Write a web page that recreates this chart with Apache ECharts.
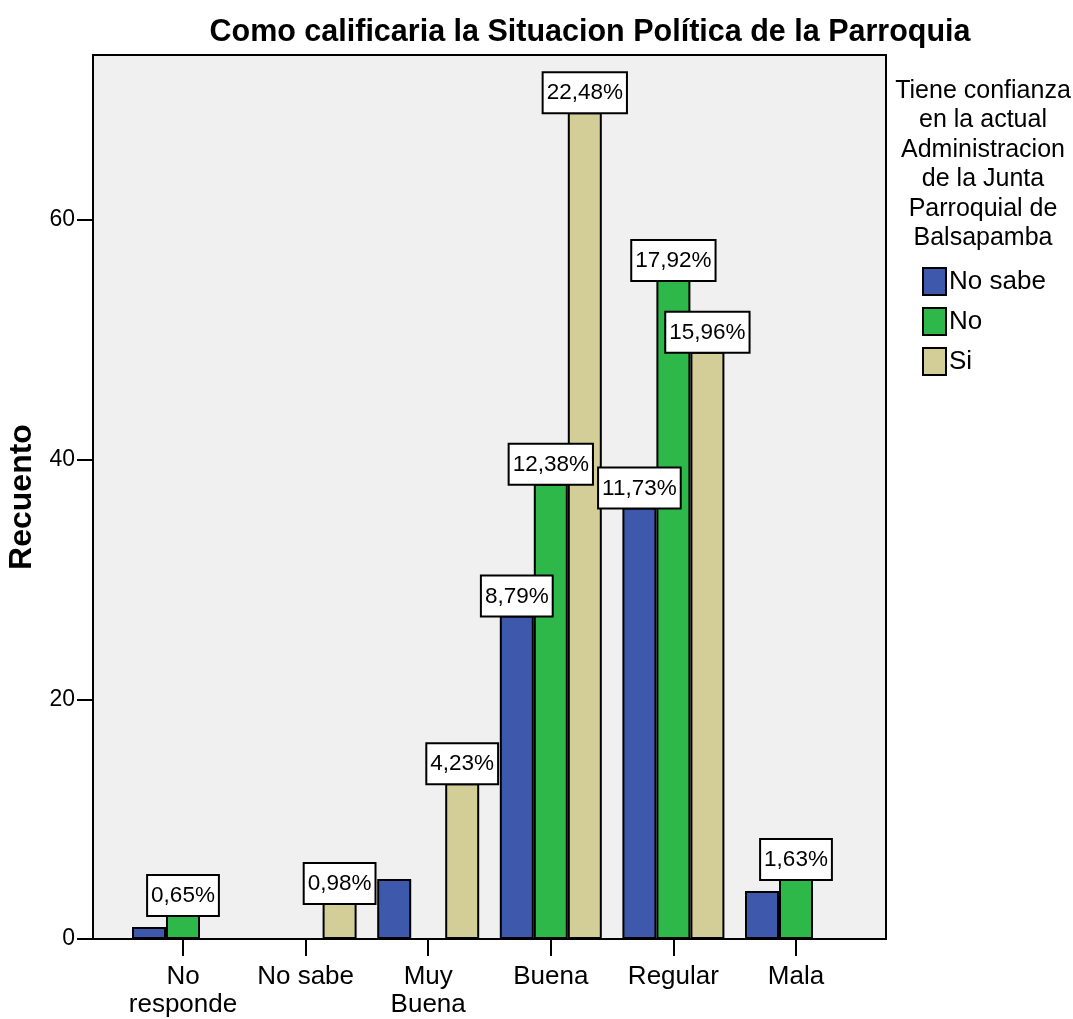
<!DOCTYPE html>
<html>
<head>
<meta charset="utf-8">
<script src="https://cdn.jsdelivr.net/npm/echarts@6/dist/echarts.min.js"></script>
<style>html,body{margin:0;padding:0;background:#fff}#c{width:1073px;height:1019px}</style>
</head>
<body>
<div id="c"></div>
<script>
var categories = ['No\nresponde', 'No sabe', 'Muy\nBuena', 'Buena', 'Regular', 'Mala'];
var seriesNames = ['No sabe', 'No', 'Si'];
var noSabeValues = [1, null, 5, 27, 36, 4];
var noValues = [2, null, null, 38, 55, 5];
var siValues = [null, 3, 13, 69, 49, null];
var noSabeLabels = [null, null, null, '8,79%', '11,73%', null];
var noLabels = ['0,65%', null, null, '12,38%', '17,92%', '1,63%'];
var siLabels = [null, '0,98%', '4,23%', '22,48%', '15,96%', null];
var yTicks = [0, 20, 40, 60];
var yMax = 73.77;

var FONT = "'Liberation Sans Narrow', 'Arial Narrow', 'Liberation Sans', sans-serif";
var colors = ['#3e58ac', '#2fb84a', '#d3ce98'];

function mkSeries(name, values, labels, color) {
  var data = values.map(function (v, i) {
    return { value: v, label: { show: labels[i] != null, formatter: labels[i] || '' } };
  });
  return {
    name: name,
    type: 'bar',
    xAxisIndex: 1,
    yAxisIndex: 1,
    barWidth: 34,
    barGap: '0%',
    data: data,
    itemStyle: { color: color, borderColor: '#000', borderWidth: 2 },
    label: {
      position: 'top',
      distance: 0,
      backgroundColor: '#fff',
      borderColor: '#000',
      borderWidth: 2,
      padding: [7, 3, 6, 3],
      fontFamily: FONT,
      fontSize: 22.5,
      lineHeight: 26,
      color: '#000'
    }
  };
}

var chart = echarts.init(document.getElementById('c'), null, { renderer: 'canvas' });
chart.setOption({
  animation: false,
  backgroundColor: '#fff',
  title: [{
    text: 'Como calificaria la Situacion Política de la Parroquia',
    left: 585, top: 12, textAlign: 'center',
    textStyle: { fontFamily: FONT, fontWeight: 'bold', fontSize: 30.5, color: '#000' }
  }, {
    text: 'Tiene confianza\nen la actual\nAdministracion\nde la Junta\nParroquial de\nBalsapamba',
    left: 978, top: 71, textAlign: 'center',
    textStyle: { fontFamily: FONT, fontWeight: 'normal', fontSize: 25, lineHeight: 29.5, color: '#000', align: 'center' }
  }],
  legend: {
    data: seriesNames,
    orient: 'vertical',
    left: 917, top: 262,
    itemWidth: 23, itemHeight: 27, itemGap: 11,
    icon: 'rect',
    textStyle: { fontFamily: FONT, fontSize: 26, color: '#000', padding: [0, 0, 0, -2] },
    selectedMode: false
  },
  grid: [
    { left: 93, top: 55, width: 793, height: 884, outerBoundsMode: 'none', containLabel: false, show: true, backgroundColor: '#f0f0f0', borderColor: '#000', borderWidth: 2 },
    { left: 121.7, top: 55, width: 735.6, height: 884, outerBoundsMode: 'none', containLabel: false }
  ],
  xAxis: [
    { type: 'value', gridIndex: 0, show: false, min: 0, max: 1 },
    {
      type: 'category', gridIndex: 1, data: categories, boundaryGap: true,
      axisLine: { show: false },
      axisTick: { show: true, alignWithLabel: true, length: 17, lineStyle: { color: '#000', width: 2 } },
      axisLabel: { margin: 24, fontFamily: FONT, fontSize: 26, lineHeight: 28, color: '#000', interval: 0 }
    }
  ],
  yAxis: [
    {
      type: 'value', gridIndex: 0, min: 0, max: yMax,
      name: 'Recuento', nameLocation: 'middle', nameGap: 53, nameRotate: 90,
      nameTextStyle: { fontFamily: "'Liberation Sans', Arial, sans-serif", fontWeight: 'bold', fontSize: 32, color: '#000' },
      axisLine: { show: true, lineStyle: { color: '#000', width: 2 } },
      axisTick: { show: true, length: 16, customValues: yTicks, lineStyle: { color: '#000', width: 2 } },
      axisLabel: { customValues: yTicks, margin: 18, fontFamily: FONT, fontSize: 23, color: '#000' },
      splitLine: { show: false }
    },
    { type: 'value', gridIndex: 1, min: 0, max: yMax, show: false, splitLine: { show: false } }
  ],
  series: [
    mkSeries(seriesNames[0], noSabeValues, noSabeLabels, colors[0]),
    mkSeries(seriesNames[1], noValues, noLabels, colors[1]),
    mkSeries(seriesNames[2], siValues, siLabels, colors[2])
  ]
});
</script>
</body>
</html>
